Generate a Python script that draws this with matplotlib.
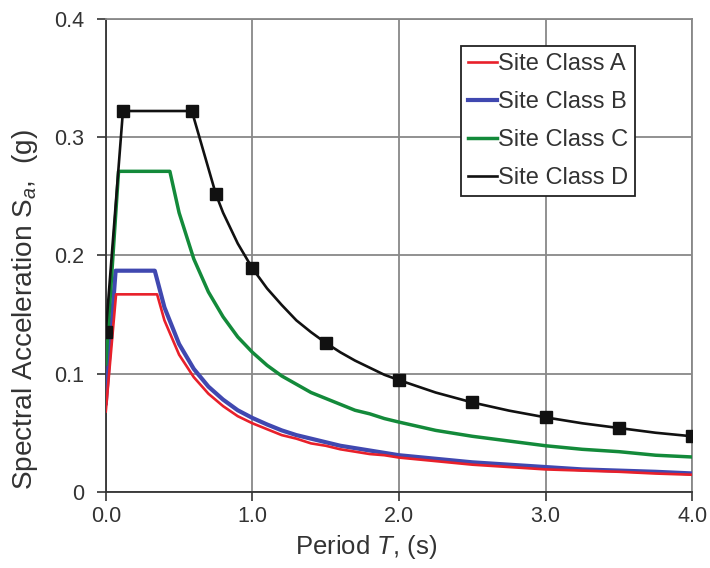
#design response spectra for site classes A-D
import matplotlib.pyplot as plt

plt.rcParams['font.family'] = ['Liberation Sans', 'DejaVu Sans']
plt.rcParams['mathtext.fontset'] = 'custom'
plt.rcParams['mathtext.rm'] = 'Liberation Sans'
plt.rcParams['mathtext.it'] = 'Liberation Sans:italic'

# Site Class A
TA = [0.0, 0.07, 0.35, 0.4, 0.5, 0.6, 0.7, 0.8, 0.9, 1.0, 1.1, 1.2, 1.3, 1.4, 1.5, 1.6, 1.7, 1.8, 1.9, 2.0,
      2.25, 2.5, 2.75, 3.0, 3.25, 3.5, 3.75, 4.0]
SA = [0.068, 0.167, 0.167, 0.145, 0.116, 0.097, 0.083, 0.0725, 0.064, 0.058, 0.053, 0.048, 0.045, 0.041, 0.039,
      0.036, 0.034, 0.032, 0.031, 0.029, 0.026, 0.023, 0.021, 0.019, 0.018, 0.017, 0.0155, 0.0145]

# Site Class B
TB = [0.0, 0.067, 0.334, 0.4, 0.5, 0.6, 0.7, 0.8, 0.9, 1.0, 1.1, 1.2, 1.3, 1.4, 1.5, 1.6, 1.7, 1.8, 1.9, 2.0,
      2.25, 2.5, 2.75, 3.0, 3.25, 3.5, 3.75, 4.0]
SB = [0.075, 0.187, 0.187, 0.156, 0.125, 0.104, 0.089, 0.078, 0.069, 0.0625, 0.057, 0.052, 0.048, 0.045, 0.042,
      0.039, 0.037, 0.035, 0.033, 0.031, 0.028, 0.025, 0.023, 0.021, 0.019, 0.018, 0.017, 0.0156]

# Site Class C
TC = [0.0, 0.087, 0.437, 0.5, 0.6, 0.7, 0.8, 0.9, 1.0, 1.1, 1.2, 1.3, 1.4, 1.5, 1.6, 1.7, 1.8, 1.9, 2.0,
      2.25, 2.5, 2.75, 3.0, 3.25, 3.5, 3.75, 4.0]
SC = [0.108, 0.271, 0.271, 0.236, 0.197, 0.169, 0.148, 0.131, 0.118, 0.107, 0.098, 0.091, 0.084, 0.079,
      0.074, 0.069, 0.066, 0.062, 0.059, 0.052, 0.047, 0.043, 0.039, 0.036, 0.034, 0.031, 0.0295]

# Site Class D (line + square markers)
TD = [0.0, 0.117, 0.587, 0.75, 0.8, 0.9, 1.0, 1.1, 1.2, 1.3, 1.4, 1.5, 1.6, 1.7, 1.8, 1.9, 2.0,
      2.25, 2.5, 2.75, 3.0, 3.25, 3.5, 3.75, 4.0]
SD = [0.135, 0.322, 0.322, 0.252, 0.236, 0.210, 0.189, 0.172, 0.158, 0.145, 0.135, 0.126, 0.118, 0.111,
      0.105, 0.099, 0.0945, 0.084, 0.0756, 0.0687, 0.063, 0.058, 0.054, 0.050, 0.047]
TDm = [0.0, 0.117, 0.587, 0.75, 1.0, 1.5, 2.0, 2.5, 3.0, 3.5, 4.0]
SDm = [0.135, 0.322, 0.322, 0.252, 0.189, 0.126, 0.0945, 0.0756, 0.063, 0.054, 0.047]

xticks = [0.0, 1.0, 2.0, 3.0, 4.0]
xlabels = ['0.0', '1.0', '2.0', '3.0', '4.0']
yticks = [0.0, 0.1, 0.2, 0.3, 0.4]
ylabels = ['0', '0.1', '0.2', '0.3', '0.4']

fig = plt.figure(figsize=(7.1, 5.68), dpi=100)
ax = fig.add_axes([0.149, 0.134, 0.826, 0.833])

ax.plot(TA, SA, color='#e8202a', linewidth=1.9, label='Site Class A', zorder=4)
ax.plot(TB, SB, color='#4048b0', linewidth=3.0, label='Site Class B', zorder=3)
ax.plot(TC, SC, color='#138a3a', linewidth=2.5, label='Site Class C', zorder=3)
ax.plot(TD, SD, color='#111111', linewidth=1.9, label='Site Class D', zorder=5)
ax.plot(TDm, SDm, linestyle='none', marker='s', markersize=8.5, color='#111111', zorder=6)

ax.set_xlim(0, 4)
ax.set_ylim(0, 0.4)
ax.set_xticks(xticks)
ax.set_xticklabels(xlabels)
ax.set_yticks(yticks)
ax.set_yticklabels(ylabels)
ax.tick_params(direction='out', length=6.5, width=1.2, labelsize=15.5, colors='#333333')
ax.tick_params(axis='y', pad=9)
ax.tick_params(axis='x', pad=4)
ax.grid(True, color='#888888', linewidth=1.3)
ax.set_axisbelow(True)
for s in ['left', 'bottom']:
    ax.spines[s].set_color('#333333')
    ax.spines[s].set_linewidth(1.3)
for s in ['top', 'right']:
    ax.spines[s].set_color('#888888')
    ax.spines[s].set_linewidth(1.3)

# axis titles centred on the chart area, not the plot area
fig.text(366 / 710, 1 - 547 / 568, r'Period $T$, (s)', fontsize=18.5, color='#333333',
         ha='center', va='center')
fig.text(25 / 710, 1 - 310 / 568, r'Spectral Acceleration S$_{\it a}$,  (g)', fontsize=20.2,
         color='#333333', ha='center', va='center', rotation=90)

leg = ax.legend(loc='upper left', bbox_to_anchor=(0.606, 0.943), fontsize=17,
                frameon=True, fancybox=False, edgecolor='#222222', framealpha=1,
                handlelength=1.2, handletextpad=0.05, borderpad=0.3, labelspacing=0.68,
                borderaxespad=0)
leg.get_frame().set_linewidth(1.3)
for t in leg.get_texts():
    t.set_color('#333333')

plt.savefig('out.png')
